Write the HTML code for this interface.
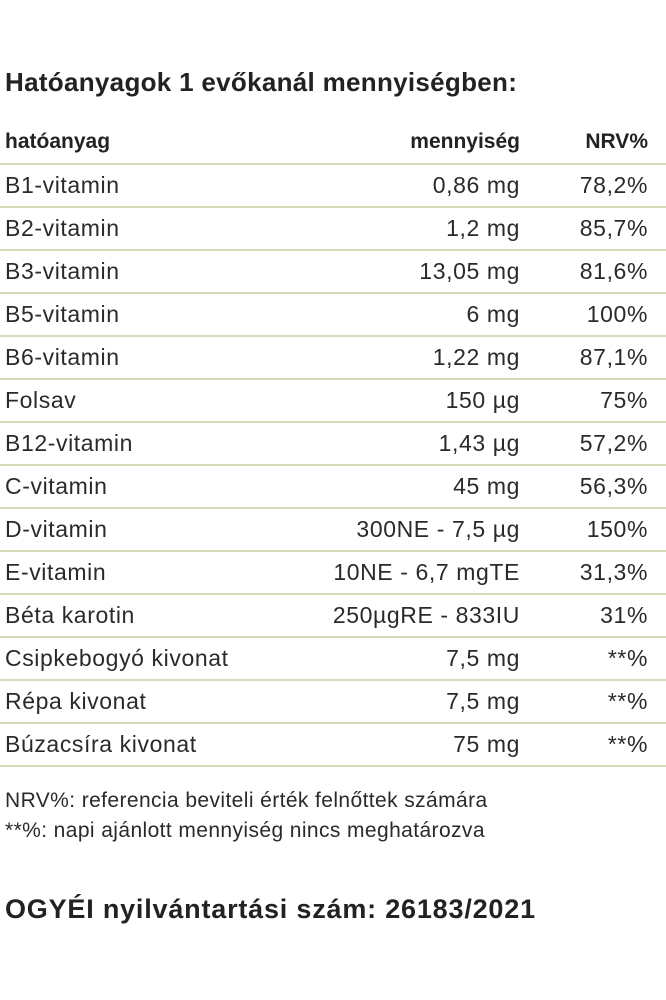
<!DOCTYPE html>
<html><head><meta charset="utf-8"><style>
body{margin:0;width:666px;height:1000px;background:#fff;font-family:"Liberation Sans",sans-serif;color:#222;position:relative;overflow:hidden}
.a{position:absolute;white-space:nowrap}
.t{font-weight:bold;font-size:26px;left:5px;letter-spacing:0.3px}
.h{font-weight:bold;font-size:21px}
.r{font-size:23px;color:#2a2a2a;letter-spacing:0.6px}
.f{font-size:21px;color:#2a2a2a;left:5px;letter-spacing:0.4px}
.l{position:absolute;left:0;width:666px;height:2px;background:#d5dcb6}
</style></head><body>
<div class="a t" style="top:67px">Hatóanyagok 1 evőkanál mennyiségben:</div>
<div class="a h" style="left:5px;top:130px">hatóanyag</div>
<div class="a h" style="right:146px;top:130px">mennyiség</div>
<div class="a h" style="right:18px;top:130px">NRV%</div>
<div id="rows"></div>
<div class="a f" style="top:789px">NRV%: referencia beviteli érték felnőttek számára</div>
<div class="a f" style="top:819px">**%: napi ajánlott mennyiség nincs meghatározva</div>
<div class="a t" style="top:894px;font-size:27px;letter-spacing:0.8px">OGYÉI nyilvántartási szám: 26183/2021</div>
<script>
var d=[["B1-vitamin","0,86 mg","78,2%"],["B2-vitamin","1,2 mg","85,7%"],["B3-vitamin","13,05 mg","81,6%"],["B5-vitamin","6 mg","100%"],["B6-vitamin","1,22 mg","87,1%"],["Folsav","150 µg","75%"],["B12-vitamin","1,43 µg","57,2%"],["C-vitamin","45 mg","56,3%"],["D-vitamin","300NE - 7,5 µg","150%"],["E-vitamin","10NE - 6,7 mgTE","31,3%"],["Béta karotin","250µgRE - 833IU","31%"],["Csipkebogyó kivonat","7,5 mg","**%"],["Répa kivonat","7,5 mg","**%"],["Búzacsíra kivonat","75 mg","**%"]];
var h='<div class="l" style="top:163px"></div>';
d.forEach(function(r,i){var y=164+i*43;
h+='<div class="a r" style="left:5px;top:'+(y+8)+'px">'+r[0]+'</div><div class="a r" style="right:146px;top:'+(y+8)+'px">'+r[1]+'</div><div class="a r" style="right:18px;top:'+(y+8)+'px">'+r[2]+'</div><div class="l" style="top:'+(y+42)+'px"></div>';});
document.getElementById('rows').innerHTML=h;
</script>
</body></html>
